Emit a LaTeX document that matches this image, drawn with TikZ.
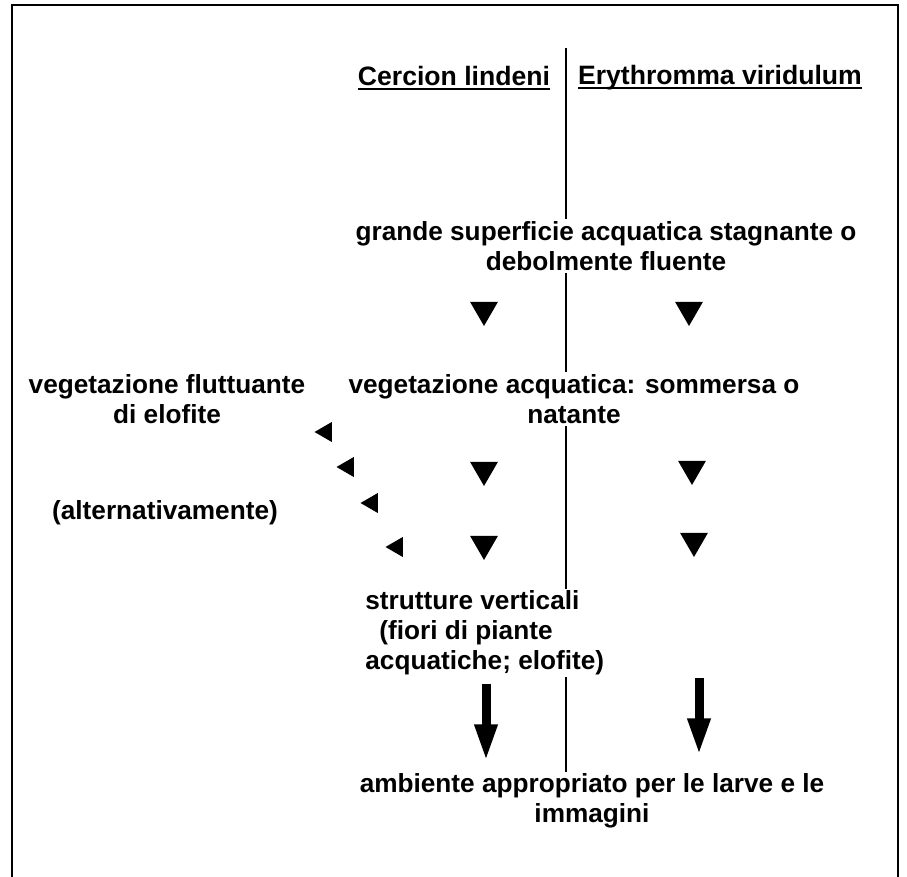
\documentclass[tikz,border=0pt]{standalone}
\usepackage{fontspec}
\setmainfont{Liberation Sans}
\usepackage{tikz}
\usetikzlibrary{shapes.geometric, arrows.meta, positioning}
\newcommand{\hdul}[1]{\setbox0\hbox{#1}\rlap{\rule[-2.2pt]{\wd0}{1pt}}\box0}

\begin{document}
\begin{tikzpicture}[x=0.5pt, y=-0.5pt,
    label/.style={font=\fontsize{13.1}{15}\selectfont\bfseries, align=center, fill=white, inner sep=1pt},
    header/.style={font=\fontsize{13.3}{15}\selectfont\bfseries, inner sep=1pt},
    downtri/.style={regular polygon, regular polygon sides=3, shape border rotate=180, fill=black, inner sep=0pt, minimum size=16pt},
    lefttri/.style={regular polygon, regular polygon sides=3, shape border rotate=90, fill=black, inner sep=0pt, minimum size=11.5pt},
    bigarrow/.style={-{Triangle[width=10.5pt, length=18.5pt]}, line width=4.5pt}]
    \useasboundingbox (0,0) rectangle (907,877);
    % Frame and column divider
    \draw[line width=1pt] (12,877) -- (12,5) -- (898,5) -- (898,877);
    \coordinate (divtop) at (566,48);
    \coordinate (divbot) at (566,772);
    \draw[line width=1pt] (divtop) -- (divbot);
    \coordinate (colL) at (486,0);
    \coordinate (colR) at (699,0);

    % Nodes
    \node (cercion) [header] at (454,78) {\hdul{Cercion lindeni}};
    \node (erythro) [header] at (720,78) {\hdul{Erythromma viridulum}};
    \node (grande) [label] at (606,246) {grande superficie acquatica stagnante o\\debolmente fluente};
    \node (vegacq) [label] at (574,399) {vegetazione acquatica: sommersa o\\natante};
    \node (vegflu) [label, fill=none] at (167,399) {vegetazione fluttuante\\di elofite};
    \node (altern) [label, fill=none] at (165,513) {(alternativamente)};
    \node (strutt) [label, align=left, anchor=west] at (363,633) {strutture verticali\\\hspace*{7pt}(fiori di piante\\acquatiche; elofite)};
    \node (ambiente) [label] at (592,801) {ambiente appropriato per le larve e le\\immagini};

    % Triangles
    \node (dA1) [downtri] at (484,310) {};
    \node (dB1) [downtri] at (689,310) {};
    \node (dA2) [downtri] at (484,470) {};
    \node (dB2) [downtri] at (692,469) {};
    \node (dA3) [downtri] at (484,544) {};
    \node (dB3) [downtri] at (694,541) {};
    \node (l1) [lefttri] at (326,432) {};
    \node (l2) [lefttri] at (348,467) {};
    \node (l3) [lefttri] at (372,503) {};
    \node (l4) [lefttri] at (397,547) {};

    % Arrows
    \draw[bigarrow, shorten <=3pt, shorten >=5pt] (strutt.south -| colL) -- (ambiente.north -| colL);
    \draw[bigarrow, shorten <=0pt, shorten >=8pt] (strutt.south -| colR) -- (ambiente.north -| colR);
\end{tikzpicture}
\end{document}
